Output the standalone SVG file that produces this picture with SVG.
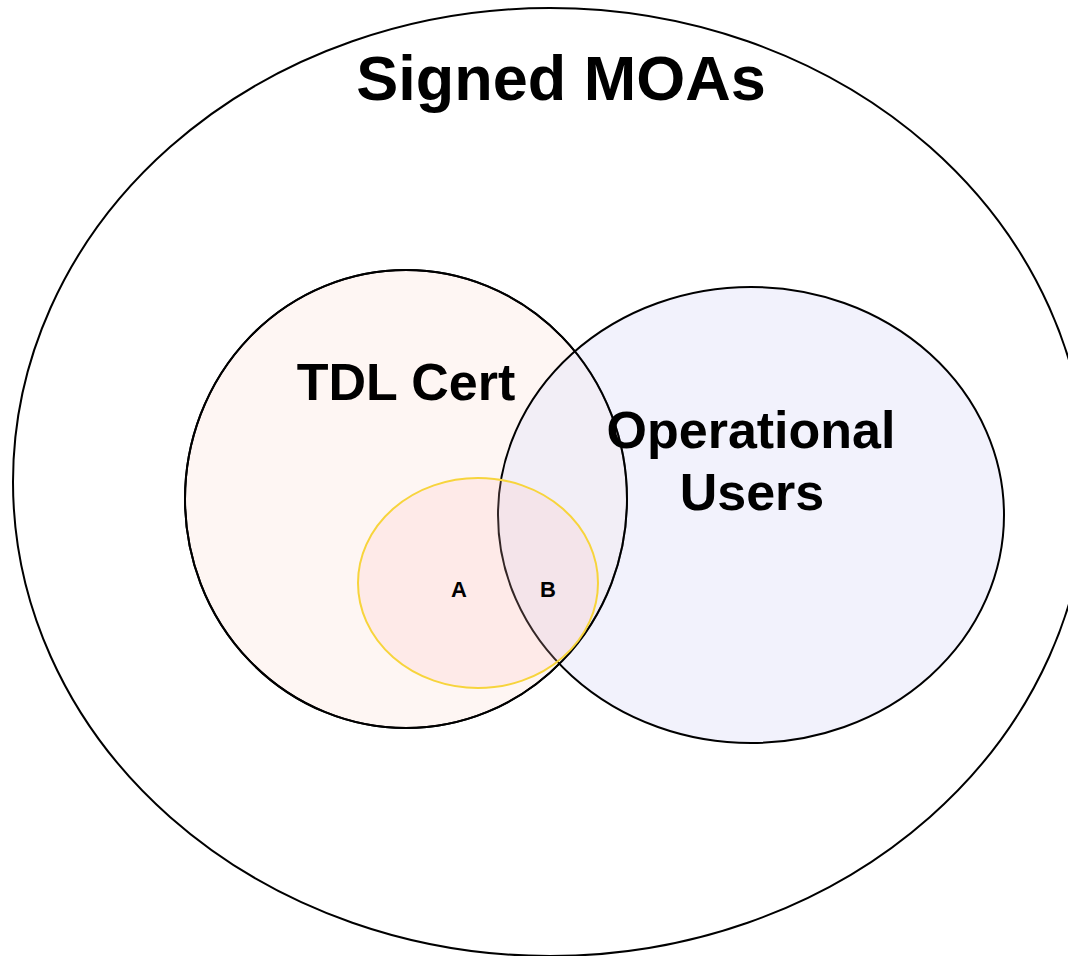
<svg xmlns="http://www.w3.org/2000/svg" width="1068" height="956" viewBox="0 0 1068 956">
<style>
.lbl{font-family:"Liberation Sans",Arial,sans-serif;font-weight:bold;fill:#000;text-anchor:middle}
.set{stroke:#000;stroke-width:2}
</style>
<rect width="1068" height="956" fill="#fff"/>
<g id="signed-moas">
<ellipse cx="550" cy="482" rx="537" ry="474" fill="#fff" class="set"/>
<text class="lbl" x="561" y="100" font-size="63">Signed MOAs</text>
</g>
<g id="tdl-cert">
<ellipse cx="406" cy="499" rx="221" ry="229" fill="#fef6f3" class="set"/>
<text class="lbl" x="406" y="400" font-size="52">TDL Cert</text>
</g>
<g id="operational-users">
<ellipse cx="751" cy="515" rx="253" ry="228" fill="#e6e6fa" fill-opacity="0.5" class="set"/>
<ellipse cx="406" cy="499" rx="221" ry="229" fill="none" class="set"/>
<text class="lbl" x="751" y="448" font-size="52">Operational</text>
<text class="lbl" x="752" y="510" font-size="52">Users</text>
</g>
<g id="subset">
<ellipse cx="478" cy="583" rx="120" ry="105" fill="#ffc0c0" fill-opacity="0.2" stroke="#f7d43c" stroke-width="2"/>
<text class="lbl" x="459" y="597" font-size="22">A</text>
<text class="lbl" x="548" y="597" font-size="22">B</text>
</g>
<g id="connectors"/>
</svg>
